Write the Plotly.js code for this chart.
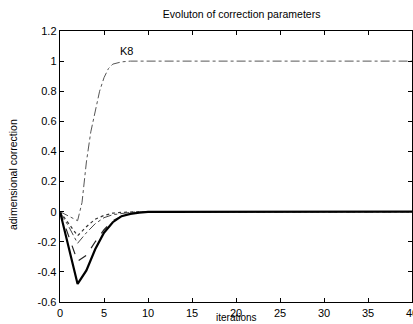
<!DOCTYPE html>
<html><head><meta charset="utf-8">
<script src="https://cdn.plot.ly/plotly-3.0.1.min.js"></script>
<style>html,body{margin:0;padding:0;background:#fff}#c{width:413px;height:324px}</style>
</head><body><div id="c"></div>
<script>
const iterations = [0,1,2,3,4,5,6,7,8,9,10,40];
const seriesA = [0,-0.24,-0.48,-0.39,-0.25,-0.14,-0.07,-0.03,-0.015,-0.007,-0.002,0];
const seriesB = [0,-0.16,-0.33,-0.29,-0.20,-0.12,-0.06,-0.03,-0.012,-0.005,0,0];
const seriesC = [0,-0.10,-0.21,-0.14,-0.08,-0.04,-0.02,-0.01,-0.005,0,0,0];
const seriesD = [0,-0.08,-0.16,-0.10,-0.05,-0.025,-0.01,-0.005,0,0,0,0];
const k8X = [0,1,2,2.5,3,3.5,4,4.5,5,5.5,6,7,8,10,40];
const k8Y = [0,-0.03,-0.06,0.06,0.33,0.53,0.67,0.8,0.89,0.95,0.98,0.995,1,1,1];
const xTicks = [0,5,10,15,20,25,30,35,40];
const yTicks = [-0.6,-0.4,-0.2,0,0.2,0.4,0.6,0.8,1,1.2];
const yTickText = ["-0.6","-0.4","-0.2","0","0.2","0.4","0.6","0.8","1","1.2"];

const traces = [
  {x: iterations, y: seriesD, mode:'lines', line:{color:'#333', width:1.2, dash:'dot'}},
  {x: iterations, y: seriesC, mode:'lines', line:{color:'#444', width:1, dash:'dashdot'}},
  {x: iterations, y: seriesB, mode:'lines', line:{color:'#222', width:1.2, dash:'dash'}},
  {x: iterations, y: seriesA, mode:'lines', line:{color:'#000', width:2.2}},
  {x: k8X, y: k8Y, mode:'lines', line:{color:'#555', width:1, dash:'dashdot'}}
];
const axisCommon = {showline:true, mirror:'ticks', linecolor:'#000', linewidth:1.3, ticks:'inside', ticklen:4, tickcolor:'#000', showgrid:false, zeroline:false, ticklabeloverflow:'allow', tickfont:{family:'Liberation Sans, Arial', size:11, color:'#000'}};
const layout = {
  width:413, height:324, margin:{l:60, r:1, t:31, b:22}, showlegend:false,
  paper_bgcolor:'#fff', plot_bgcolor:'#fff',
  title:{text:'Evoluton of correction parameters', font:{family:'Liberation Sans, Arial', size:10.5, color:'#000'}, x:0.585, xanchor:'center', y:0.955, yanchor:'middle'},
  xaxis: Object.assign({}, axisCommon, {range:[0,40], tickvals:xTicks, ticktext:xTicks.map(String)}),
  yaxis: Object.assign({}, axisCommon, {range:[-0.6,1.2], tickvals:yTicks, ticktext:yTickText}),
  annotations:[
    {text:'K8', x:7.6, y:1.07, xref:'x', yref:'y', showarrow:false, font:{family:'Liberation Sans, Arial', size:11, color:'#000'}},
    {text:'iterations', xref:'paper', yref:'paper', x:0.50, y:-0.058, yanchor:'middle', showarrow:false, font:{family:'Liberation Sans, Arial', size:10, color:'#000'}},
    {text:'adimensional correction', xref:'paper', yref:'paper', x:-0.135, y:0.47, xanchor:'center', textangle:-90, showarrow:false, font:{family:'Liberation Sans, Arial', size:10.5, color:'#000'}}
  ]
};
Plotly.newPlot('c', traces, layout, {staticPlot:true, displayModeBar:false});
</script></body></html>
